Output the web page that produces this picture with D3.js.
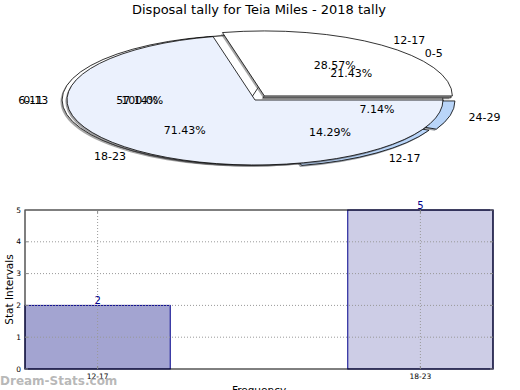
<!DOCTYPE html>
<html><head><meta charset="utf-8">
<script src="https://cdn.jsdelivr.net/npm/d3@7"></script>
<style>body{margin:0;background:#fff}svg{display:block;font-family:"DejaVu Sans",sans-serif}</style>
</head><body>
<svg id="c" width="520" height="390"></svg>
<script>
// ---- data ----
const title = "Disposal tally for Teia Miles - 2018 tally";
// pie layers (drawn bottom to top)
const pie3Labels = ["0-13"];
const pie3Values = [1];
const pie3Pct = ["100.0%"];
const pie2Labels = ["0-5", "6-11", "12-17", "24-29"];
const pie2Values = [3, 8, 2, 1];
const pie2Pct = ["21.43%", "57.14%", "14.29%", "7.14%"];
const pie1Labels = ["12-17", "18-23"];
const pie1Values = [2, 5];
const pie1Pct = ["28.57%", "71.43%"];
// bar chart
const barCategories = ["12-17", "18-23"];
const barValues = [2, 5];
const yTicks = [0, 1, 2, 3, 4, 5];

// ---- styles ----
const pie3Colors = ["#ffffff"];
const pie2Colors = ["#ffffff", "#ffffff", "#b9d5f9", "#b9d5f9"];
const pie1Colors = ["#ffffff", "#ebf1fd"];
const pie3Explode = [0];
const pie2Explode = [0.055, 0.027, 0.04, 0.065];
const pie1Explode = [0.08, 0];
const barColors = ["#a3a4d1", "#cdcde6"];

const svg = d3.select("#c");
svg.append("text").attr("x", 259).attr("y", 14).attr("text-anchor", "middle")
  .attr("font-size", 13).attr("fill", "#000").text(title);

// ---- pie ----
const cx = 255, cy = 100, rx = 188, ry = 65;
const pieGen = d3.pie().sort(null).value(d => d)
  .startAngle(Math.PI / 2).endAngle(Math.PI / 2 - 2 * Math.PI);
const arcGen = d3.arc().innerRadius(0).outerRadius(1);
const gPie = svg.append("g");
const gLab = svg.append("g").attr("font-size", 11).attr("fill", "#000");

function drawPie(values, labels, pcts, colors, explode) {
  const arcs = pieGen(values);
  arcs.forEach((a, i) => {
    const mid = (a.startAngle + a.endAngle) / 2;
    const th = Math.PI / 2 - mid; // ccw from 3 o'clock
    const c = Math.cos(th), s = Math.sin(th);
    const ox = cx + explode[i] * rx * c, oy = cy - explode[i] * ry * s;
    // shadow
    const col = d3.rgb(colors[i]);
    gPie.append("path").attr("d", arcGen(a))
      .attr("transform", `translate(${ox - 1.6},${oy + 1.6}) scale(${rx},${ry})`)
      .attr("fill", d3.rgb(col.r * 0.3, col.g * 0.3, col.b * 0.3)).attr("fill-opacity", 0.5)
      .attr("stroke", "none");
    gPie.append("path").attr("d", arcGen(a))
      .attr("transform", `translate(${ox},${oy}) scale(${rx},${ry})`)
      .attr("fill", colors[i]).attr("stroke", "#000").attr("stroke-width", 0.8)
      .attr("stroke-linejoin", "round")
      .attr("vector-effect", "non-scaling-stroke");
    // labels
    const lx = ox + 1.1 * rx * c, ly = oy - 1.1 * ry * s;
    gLab.append("text").attr("x", lx).attr("y", ly).attr("dy", "0.35em")
      .attr("text-anchor", c > 0 ? "start" : "end").text(labels[i]);
    const px = ox + 0.6 * rx * c, py = oy - 0.6 * ry * s;
    gLab.append("text").attr("x", px).attr("y", py).attr("dy", "0.35em")
      .attr("text-anchor", "middle").text(pcts[i]);
  });
}
drawPie(pie3Values, pie3Labels, pie3Pct, pie3Colors, pie3Explode);
drawPie(pie2Values, pie2Labels, pie2Pct, pie2Colors, pie2Explode);
drawPie(pie1Values, pie1Labels, pie1Pct, pie1Colors, pie1Explode);
gLab.raise();

// ---- bar chart ----
const L = 25, R = 493, T = 210, B = 369;
const x = d3.scaleLinear().domain([-0.225, 1.225]).range([L, R]);
const y = d3.scaleLinear().domain([0, 5]).range([B, T]);
const barW = 0.45;
const gb = svg.append("g");

gb.selectAll("rect.bar").data(barValues).join("rect").attr("class", "bar")
  .attr("x", (d, i) => x(i - barW / 2)).attr("width", x(barW) - x(0))
  .attr("y", d => y(d)).attr("height", d => y(0) - y(d))
  .attr("fill", (d, i) => barColors[i]).attr("stroke", "#00008b").attr("stroke-width", 1);

// grid
gb.selectAll("line.gy").data(yTicks.slice(1, -1)).join("line").attr("class", "gy")
  .attr("x1", L).attr("x2", R).attr("y1", d => y(d)).attr("y2", d => y(d))
  .attr("stroke", "#999").attr("stroke-dasharray", "1,2").attr("stroke-width", 1);
gb.selectAll("line.gx").data(barCategories).join("line").attr("class", "gx")
  .attr("x1", (d, i) => x(i)).attr("x2", (d, i) => x(i)).attr("y1", T).attr("y2", B)
  .attr("stroke", "#999").attr("stroke-dasharray", "1,2").attr("stroke-width", 1);

// frame
gb.append("rect").attr("x", L).attr("y", T).attr("width", R - L).attr("height", B - T)
  .attr("fill", "none").attr("stroke", "#000").attr("stroke-width", 1);

// ticks
yTicks.forEach(t => {
  gb.append("line").attr("x1", L).attr("x2", L + 3).attr("y1", y(t)).attr("y2", y(t)).attr("stroke", "#888");
  gb.append("line").attr("x1", R - 3).attr("x2", R).attr("y1", y(t)).attr("y2", y(t)).attr("stroke", "#888");
  gb.append("text").attr("x", L - 4).attr("y", y(t)).attr("dy", "0.35em").attr("text-anchor", "end")
    .attr("font-size", 7.5).text(t);
});
barCategories.forEach((c, i) => {
  gb.append("line").attr("x1", x(i)).attr("x2", x(i)).attr("y1", B).attr("y2", B - 3).attr("stroke", "#888");
  gb.append("line").attr("x1", x(i)).attr("x2", x(i)).attr("y1", T).attr("y2", T + 3).attr("stroke", "#888");
  gb.append("text").attr("x", x(i)).attr("y", B + 10).attr("text-anchor", "middle")
    .attr("font-size", 7.5).text(c);
});
// value labels
barValues.forEach((v, i) => {
  gb.append("text").attr("x", x(i)).attr("y", y(v) - 1).attr("text-anchor", "middle")
    .attr("font-size", 10).attr("fill", "#00008b").text(v);
});
// axis labels
gb.append("text").attr("transform", `translate(13,${(T + B) / 2}) rotate(-90)`)
  .attr("text-anchor", "middle").attr("font-size", 10.5).text("Stat Intervals");
gb.append("text").attr("x", 259).attr("y", 394).attr("text-anchor", "middle")
  .attr("font-size", 10.5).text("Frequency");
// watermark
svg.append("text").attr("x", 0).attr("y", 385).attr("font-size", 12).attr("font-weight", "bold")
  .attr("fill", "#999").attr("fill-opacity", 0.7).text("Dream-Stats.com");
</script>
</body></html>
